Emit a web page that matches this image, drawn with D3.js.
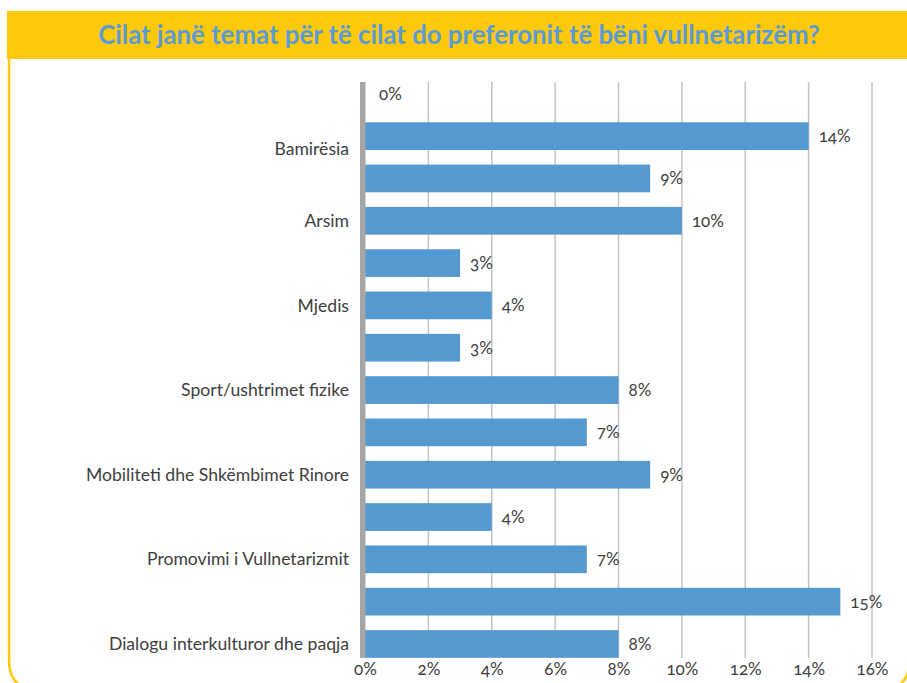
<!DOCTYPE html>
<html>
<head>
<meta charset="utf-8">
<script src="https://cdn.jsdelivr.net/npm/d3@7"></script>
<style>
  html, body { margin: 0; padding: 0; background: #ffffff; }
  svg { display: block; }
  text { font-family: Lato, "Open Sans", "DejaVu Sans", sans-serif; }
</style>
</head>
<body>
<svg id="chart" width="907" height="683"></svg>
<script>
// ---- data ----
const title = "Cilat janë temat për të cilat do preferonit të bëni vullnetarizëm?";
const barValues = [0, 14, 9, 10, 3, 4, 3, 8, 7, 9, 4, 7, 15, 8]; // percent, top to bottom
const categoryLabels = [
  "Bamirësia",
  "Arsim",
  "Mjedis",
  "Sport/ushtrimet fizike",
  "Mobiliteti dhe Shkëmbimet Rinore",
  "Promovimi i Vullnetarizmit",
  "Dialogu interkulturor dhe paqja"
];
const categoryLabelSlots = [1.3, 3, 5, 7, 9, 11, 13]; // bar index where each label sits
const xTickValues = [0, 2, 4, 6, 8, 10, 12, 14, 16];

// ---- layout ----
const svg = d3.select("#chart");
const W = 907, H = 683;
const plotLeft = 365, plotRight = 872;
const gridTop = 82, gridBottom = 658;

const x = d3.scaleLinear().domain([0, 16]).range([plotLeft, plotRight]);
const y = d3.scaleBand()
  .domain(d3.range(barValues.length))
  .range([72.65, 72.65 + 42.32 * barValues.length])
  .paddingInner(0.3455)
  .paddingOuter(0.3455 / 2);
const yIdx = d3.scaleLinear()
  .domain([0, barValues.length - 1])
  .range([y(0) + y.bandwidth() / 2, y(barValues.length - 1) + y.bandwidth() / 2]);

const yellow = "#FFC90B";
const blue = "#5499D0";
const textCol = "#404040";

// frame (rounded border)
const r = 30, fx0 = 9, fx1 = 909.5, fy0 = 40, fy1 = 690;
svg.append("path")
  .attr("d", `M${fx0},${fy0} L${fx0},${fy1 - r} Q${fx0},${fy1} ${fx0 + r},${fy1} L${fx1 - r},${fy1} Q${fx1},${fy1} ${fx1},${fy1 - r} L${fx1},${fy0}`)
  .attr("fill", "none")
  .attr("stroke", yellow)
  .attr("stroke-width", 2.5);

// title banner
svg.append("rect")
  .attr("x", 7).attr("y", 11).attr("width", W - 7).attr("height", 48)
  .attr("fill", yellow);
const t = svg.append("text")
  .attr("x", 459).attr("y", 35).attr("dy", "0.36em")
  .attr("text-anchor", "middle")
  .attr("font-weight", 700)
  .attr("font-size", 24)
  .attr("fill", "#5B9BD5")
  .text(title);
const tw = t.node().getComputedTextLength();
t.attr("font-size", 24 * 722 / tw);

// gridlines
svg.append("g").selectAll("line")
  .data(xTickValues.slice(1))
  .join("line")
  .attr("x1", d => x(d)).attr("x2", d => x(d))
  .attr("y1", gridTop).attr("y2", gridBottom)
  .attr("stroke", "#c4c4c4")
  .attr("stroke-width", 1.5);

// bars
svg.append("g").selectAll("rect")
  .data(barValues)
  .join("rect")
  .attr("x", x(0))
  .attr("y", (d, i) => y(i))
  .attr("width", d => x(d) - x(0))
  .attr("height", y.bandwidth())
  .attr("fill", blue);

// value labels
svg.append("g").selectAll("text")
  .data(barValues)
  .join("text")
  .attr("x", d => x(d) + (d === 0 ? 14 : 10))
  .attr("y", (d, i) => y(i) + y.bandwidth() / 2)
  .attr("dy", "0.35em")
  .attr("font-size", 17)
  .attr("fill", textCol)
  .style("font-variant-numeric", "oldstyle-nums")
  .text(d => d + "%");

// vertical axis line
svg.append("rect")
  .attr("x", 360).attr("y", gridTop)
  .attr("width", 5.5).attr("height", gridBottom - gridTop)
  .attr("fill", "#a6a6a6");

// category labels
svg.append("g").selectAll("text")
  .data(categoryLabels)
  .join("text")
  .attr("x", 349)
  .attr("y", (d, i) => yIdx(categoryLabelSlots[i]))
  .attr("dy", "0.35em")
  .attr("text-anchor", "end")
  .attr("font-size", 17.6)
  .attr("fill", textCol)
  .text(d => d);

// x axis tick labels
const xAxis = d3.axisBottom(x)
  .tickValues(xTickValues)
  .tickFormat(d => d + "%")
  .tickSize(0)
  .tickPadding(0);
const gx = svg.append("g")
  .attr("transform", `translate(0, 663)`)
  .call(xAxis);
gx.select(".domain").remove();
gx.selectAll("text")
  .attr("font-size", 17)
  .attr("fill", textCol)
  .attr("font-family", "Lato, 'Open Sans', sans-serif")
  .style("font-variant-numeric", "oldstyle-nums");
</script>
</body>
</html>
